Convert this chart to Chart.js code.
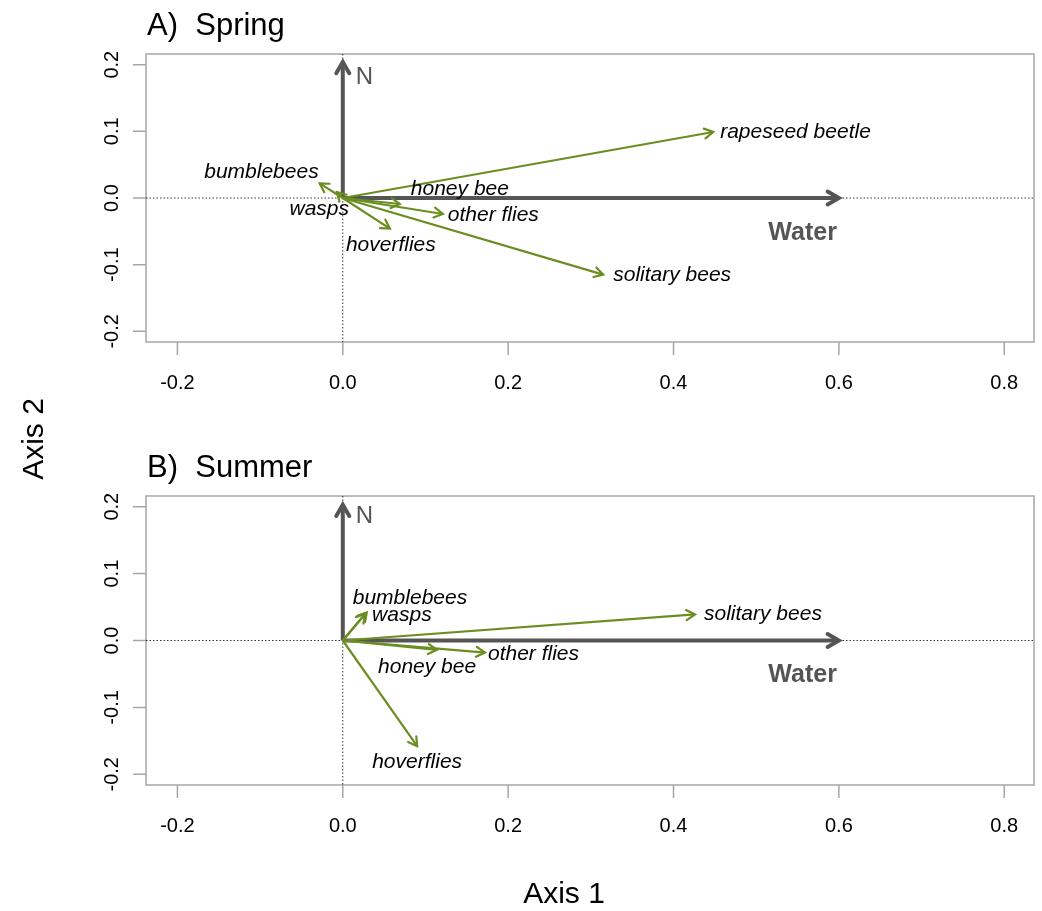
<!DOCTYPE html>
<html>
<head>
<meta charset="utf-8">
<script src="https://cdn.jsdelivr.net/npm/chart.js@4.4.1/dist/chart.umd.min.js"></script>
<style>
body{margin:0;background:#fff;width:1042px;height:911px;position:relative;overflow:hidden;font-family:"Liberation Sans",Arial,sans-serif}
.panel{position:absolute;left:0;width:1042px}
#axis1{position:absolute;left:464px;width:200px;top:876px;text-align:center;font-size:30px;color:#000}
#axis2{position:absolute;left:-67px;width:200px;top:422px;text-align:center;font-size:30px;color:#000;transform:rotate(-90deg)}
</style>
</head>
<body>
<div class="panel" style="top:0;height:445px"><canvas id="spring" width="1042" height="445"></canvas></div>
<div class="panel" style="top:445px;height:466px"><canvas id="summer" width="1042" height="466"></canvas></div>
<div id="axis1">Axis 1</div>
<div id="axis2">Axis 2</div>
<script>
'use strict';

// tick marks and labels
const xTicks = [-0.2, 0, 0.2, 0.4, 0.6, 0.8];
const xTickLabels = ['-0.2', '0.0', '0.2', '0.4', '0.6', '0.8'];
const yTicks = [-0.2, -0.1, 0, 0.1, 0.2];
const yTickLabels = ['-0.2', '-0.1', '0.0', '0.1', '0.2'];

// environmental variables
const variables = ['N', 'Water'];
const springVarAxis1 = [0, 0.6];
const springVarAxis2 = [0.204, 0];
const summerVarAxis1 = [0, 0.6];
const summerVarAxis2 = [0.203, 0];

// species scores
const springSpecies = ['rapeseed beetle', 'solitary bees', 'other flies', 'honey bee', 'hoverflies', 'bumblebees', 'wasps'];
const springAxis1 = [0.448, 0.315, 0.121, 0.069, 0.057, -0.028, -0.007];
const springAxis2 = [0.099, -0.115, -0.024, -0.009, -0.046, 0.022, 0.009];

const summerSpecies = ['solitary bees', 'other flies', 'honey bee', 'hoverflies', 'bumblebees', 'wasps'];
const summerAxis1 = [0.426, 0.172, 0.114, 0.090, 0.029, 0.027];
const summerAxis2 = [0.039, -0.018, -0.014, -0.158, 0.042, 0.040];

// label placement (pixel offset from arrow tip, alignment)
const springLabelPos = {
    'rapeseed beetle': [7, 0, 'left'],
    'solitary bees': [10, 0, 'left'],
    'other flies': [5, 1, 'left'],
    'honey bee': [11, -15, 'left'],
    'hoverflies': [-44, 16, 'left'],
    'bumblebees': [-1, -11, 'right'],
    'wasps': [12, 17, 'right'],
    'N': [13, 15, 'left'],
    'Water': [-2, 35, 'right'],
};
const summerLabelPos = {
    'solitary bees': [9, 0, 'left'],
    'other flies': [3, 2, 'left'],
    'honey bee': [-59, 17, 'left'],
    'hoverflies': [-45, 16, 'left'],
    'bumblebees': [-14, -14, 'left'],
    'wasps': [7, 1, 'left'],
    'N': [13, 12, 'left'],
    'Water': [-2, 35, 'right'],
};

const GREEN = '#6b8e23';
const DARK = '#555555';
const FRAME = '#a6a6a6';
const FONT = '"Liberation Sans", Arial, sans-serif';

function drawHead(c, x0, y0, x1, y1, len){
    const ang = Math.atan2(y1 - y0, x1 - x0);
    const a = Math.PI / 6;
    c.beginPath();
    c.moveTo(x1 - len * Math.cos(ang - a), y1 - len * Math.sin(ang - a));
    c.lineTo(x1, y1);
    c.lineTo(x1 - len * Math.cos(ang + a), y1 - len * Math.sin(ang + a));
    c.stroke();
}

const biplot = {
    id: 'biplot',
    beforeDatasetsDraw(chart){
        const c = chart.ctx;
        const a = chart.chartArea;
        const sx = chart.scales.x, sy = chart.scales.y;
        c.save();
        // frame
        c.strokeStyle = FRAME;
        c.lineWidth = 1.5;
        c.strokeRect(a.left, a.top, a.right - a.left, a.bottom - a.top);
        // ticks
        c.beginPath();
        xTicks.forEach(v => {
            const px = sx.getPixelForValue(v);
            c.moveTo(px, a.bottom);
            c.lineTo(px, a.bottom + 13);
        });
        yTicks.forEach(v => {
            const py = sy.getPixelForValue(v);
            c.moveTo(a.left, py);
            c.lineTo(a.left - 13, py);
        });
        c.stroke();
        // tick labels
        c.fillStyle = '#000';
        c.font = '20px ' + FONT;
        c.textAlign = 'center';
        c.textBaseline = 'alphabetic';
        xTicks.forEach((v, i) => {
            c.fillText(xTickLabels[i], sx.getPixelForValue(v), a.bottom + 47);
        });
        yTicks.forEach((v, i) => {
            c.save();
            c.translate(a.left - 28, sy.getPixelForValue(v));
            c.rotate(-Math.PI / 2);
            c.fillText(yTickLabels[i], 0, 0);
            c.restore();
        });
        // zero lines
        c.strokeStyle = '#000';
        c.lineWidth = 0.8;
        c.setLineDash([1.5, 2]);
        c.beginPath();
        const zx = sx.getPixelForValue(0), zy = sy.getPixelForValue(0);
        c.moveTo(a.left, zy); c.lineTo(a.right, zy);
        c.moveTo(zx, a.top); c.lineTo(zx, a.bottom);
        c.stroke();
        c.setLineDash([]);
        // panel title
        c.font = '31px ' + FONT;
        c.textAlign = 'left';
        c.fillText(chart.options.plugins.biplot.title, a.left + 1, a.top - 19);
        c.restore();
    },
    afterDatasetsDraw(chart){
        const c = chart.ctx;
        const pos = chart.options.plugins.biplot.labels;
        c.save();
        chart.data.datasets.forEach((ds, i) => {
            const pts = chart.getDatasetMeta(i).data;
            const p0 = pts[0], p1 = pts[1];
            const isVar = ds.isVar;
            c.strokeStyle = ds.borderColor;
            c.lineWidth = ds.borderWidth;
            c.lineCap = 'round';
            c.lineJoin = 'miter';
            drawHead(c, p0.x, p0.y, p1.x, p1.y, isVar ? 13 : 10);
            const lp = pos[ds.label];
            c.textAlign = lp[2];
            c.textBaseline = 'middle';
            if(isVar){
                c.fillStyle = DARK;
                c.font = (ds.label == 'Water' ? 'bold 25px ' : '24px ') + FONT;
            }else{
                c.fillStyle = '#000';
                c.font = 'italic 21px ' + FONT;
            }
            c.fillText(ds.label, p1.x + lp[0], p1.y + lp[1]);
        });
        c.restore();
    },
};

function makeChart(id, title, names, xs, ys, varXs, varYs, labelPos, padTop, padBottom){
    const datasets = [];
    names.forEach((n, i) => {
        datasets.push({
            label: n,
            data: [{x: 0, y: 0}, {x: xs[i], y: ys[i]}],
            borderColor: GREEN,
            borderWidth: 2.2,
            showLine: true,
            pointRadius: 0,
            isVar: false,
        });
    });
    variables.forEach((n, i) => {
        datasets.push({
            label: n,
            data: [{x: 0, y: 0}, {x: varXs[i], y: varYs[i]}],
            borderColor: DARK,
            borderWidth: 4,
            showLine: true,
            pointRadius: 0,
            isVar: true,
        });
    });
    return new Chart(document.getElementById(id), {
        type: 'scatter',
        data: {datasets: datasets},
        options: {
            responsive: false,
            animation: false,
            events: [],
            layout: {padding: {left: 146, right: 8, top: padTop, bottom: padBottom}},
            scales: {
                x: {type: 'linear', min: -0.238, max: 0.836, display: false},
                y: {type: 'linear', min: -0.216, max: 0.216, display: false},
            },
            plugins: {
                legend: {display: false},
                tooltip: {enabled: false},
                biplot: {title: title, labels: labelPos},
            },
        },
        plugins: [biplot],
    });
}

makeChart('spring', 'A)  Spring', springSpecies, springAxis1, springAxis2,
    springVarAxis1, springVarAxis2, springLabelPos, 54, 103);
makeChart('summer', 'B)  Summer', summerSpecies, summerAxis1, summerAxis2,
    summerVarAxis1, summerVarAxis2, summerLabelPos, 51, 126);
</script>
</body>
</html>
